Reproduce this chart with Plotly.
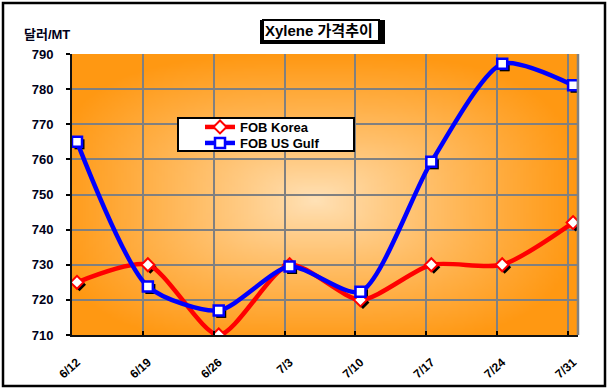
import zlib, struct, base64
import plotly.graph_objects as go

# ---------------- data ----------------
dates = ["6/12", "6/19", "6/26", "7/3", "7/10", "7/17", "7/24", "7/31"]
fob_korea = [725, 730, 710, 730, 720, 730, 730, 742]
fob_usgulf = [765, 723.8, 717, 729.5, 722.3, 759.3, 787.2, 781.1]
y_ticks = [710, 720, 730, 740, 750, 760, 770, 780, 790]

W, H = 608, 391
L, R, T, B = 72, 578, 54, 335   # plot area in pixels
PW, PH = R - L, B - T

def px_x(p):
    return (p - L) / PW

def px_y(p):
    return (B - p) / PH

# ---------------- radial gradient background (PNG, pure python) ----------------
def gradient_png(w=160, h=100):
    c_edge = (255, 152, 18)
    c_mid = (255, 226, 184)
    cu, cv = 0.48, 0.52
    rows = []
    for j in range(h):
        v = (j + 0.5) / h
        row = bytearray([0])
        for i in range(w):
            u = (i + 0.5) / w
            dx = abs(u - cu) / 0.52
            dy = abs(v - cv) / 0.52
            t = (dx ** 3 + dy ** 3) ** (1 / 3)
            t = min(1.0, t) ** 0.9
            row += bytes(int(round(c_mid[k] + (c_edge[k] - c_mid[k]) * t)) for k in range(3))
        rows.append(bytes(row))
    raw = b"".join(rows)

    def chunk(tag, data):
        return struct.pack(">I", len(data)) + tag + data + struct.pack(">I", zlib.crc32(tag + data) & 0xFFFFFFFF)

    png = (b"\x89PNG\r\n\x1a\n"
           + chunk(b"IHDR", struct.pack(">IIBBBBB", w, h, 8, 2, 0, 0, 0))
           + chunk(b"IDAT", zlib.compress(raw, 9))
           + chunk(b"IEND", b""))
    return "data:image/png;base64," + base64.b64encode(png).decode()

FONT = "Liberation Sans, Arial, Noto Sans CJK KR, sans-serif"
idx = list(range(len(dates)))

n = len(dates) - 1
step = PW / (n + 0.14)          # px per category
shift = 5 / step                # data drawn 5px right of gridlines
sh_x = 2.5 / step               # marker shadow offset
sh_y = 2.5 / (PH / 80)
SMOOTH = 0.7

fig = go.Figure()

# empty trace so that the base (grid) subplot xy exists
fig.add_trace(go.Scatter(x=[], y=[], xaxis="x", yaxis="y", showlegend=False, hoverinfo="skip"))

# marker shadows
fig.add_trace(go.Scatter(x=idx, y=fob_korea, xaxis="x2", yaxis="y2", mode="markers",
                         marker=dict(symbol="diamond", size=10, color="black"),
                         showlegend=False, hoverinfo="skip"))
fig.add_trace(go.Scatter(x=idx, y=fob_usgulf, xaxis="x2", yaxis="y2", mode="markers",
                         marker=dict(symbol="square", size=10, color="black"),
                         showlegend=False, hoverinfo="skip"))

fig.add_trace(go.Scatter(
    x=idx, y=fob_korea, name="FOB Korea", xaxis="x3", yaxis="y", legend="legend",
    mode="lines+markers", line=dict(color="#ff0000", width=4.5, shape="spline", smoothing=SMOOTH),
    marker=dict(symbol="diamond", size=10, color="white", line=dict(color="#ff0000", width=2))))
fig.add_trace(go.Scatter(
    x=idx, y=fob_usgulf, name="FOB US Gulf", xaxis="x3", yaxis="y", legend="legend2",
    mode="lines+markers", line=dict(color="#0000ff", width=4.5, shape="spline", smoothing=SMOOTH),
    marker=dict(symbol="square", size=10, color="white", line=dict(color="#0000ff", width=2.5))))

legend_common = dict(xanchor="left", yanchor="top", bgcolor="rgba(0,0,0,0)", borderwidth=0,
                     font=dict(family=FONT, size=13, color="black", weight="bold"),
                     itemwidth=30)

fig.update_layout(
    width=W, height=H,
    margin=dict(l=L, r=W - R, t=T, b=H - B, autoexpand=False),
    paper_bgcolor="white", plot_bgcolor="rgba(0,0,0,0)",
    font=dict(family=FONT, color="black"),
    showlegend=True,
    xaxis=dict(type="linear", range=[0, n + 0.14], tickmode="array", tickvals=idx, showticklabels=False,
               showgrid=True, gridcolor="#808080", gridwidth=2,
               ticks="inside", ticklen=4, tickwidth=2, tickcolor="black",
               showline=True, linecolor="#111111", linewidth=2, zeroline=False, fixedrange=True),
    xaxis2=dict(overlaying="x", range=[-shift - sh_x, n + 0.14 - shift - sh_x], visible=False),
    yaxis2=dict(overlaying="y", range=[710 + sh_y, 790 + sh_y], visible=False),
    xaxis3=dict(overlaying="x", range=[-shift, n + 0.14 - shift], tickmode="array",
                tickvals=idx, ticktext=dates, tickangle=-42, showgrid=False, ticks="",
                showline=False, zeroline=False, ticklabelstandoff=17,
                tickfont=dict(family=FONT, size=12, color="black", weight="bold")),
    yaxis=dict(range=[710, 790], tickmode="array", tickvals=y_ticks,
               showgrid=True, gridcolor="#808080", gridwidth=2,
               ticks="outside", ticklen=4, tickwidth=2, tickcolor="black",
               showline=True, linecolor="#111111", linewidth=2, zeroline=False,
               ticklabelstandoff=10,
               tickfont=dict(family=FONT, size=13, color="#000018", weight="bold")),
    legend=dict(x=px_x(200), y=px_y(112), **legend_common),
    legend2=dict(x=px_x(200), y=px_y(128), **legend_common),
    images=[dict(source=gradient_png(), xref="paper", yref="paper", x=0, y=1,
                 sizex=1, sizey=1, sizing="stretch", layer="below", xanchor="left", yanchor="top")],
)

shapes = [
    # right plot edge (gray)
    dict(type="line", xref="paper", yref="paper", x0=1, x1=1, y0=0, y1=1,
         line=dict(color="#808080", width=2.5)),
    # legend box
    dict(type="rect", xref="paper", yref="paper", x0=px_x(178), x1=px_x(354),
         y0=px_y(151), y1=px_y(118), fillcolor="white", line=dict(color="black", width=2)),
    # title shadow
    dict(type="rect", xref="paper", yref="paper", x0=px_x(260), x1=px_x(385),
         y0=px_y(44), y1=px_y(20), fillcolor="black", line=dict(width=0)),
    # outer frame
    dict(type="rect", xref="paper", yref="paper", x0=px_x(3), x1=px_x(605),
         y0=px_y(386), y1=px_y(3), line=dict(color="black", width=2.5)),
]
fig.update_layout(shapes=shapes)

fig.add_annotation(text="<b>Xylene 가격추이 </b>", xref="paper", yref="paper",
                   x=px_x(320.5), y=px_y(30), xanchor="center", yanchor="middle", showarrow=False,
                   font=dict(family=FONT, size=15, color="black"),
                   bgcolor="white", bordercolor="black", borderwidth=2, borderpad=1)
fig.add_annotation(text="<b>달러/MT</b>", xref="paper", yref="paper",
                   x=px_x(72), y=px_y(34), xanchor="right", yanchor="middle", showarrow=False,
                   font=dict(family=FONT, size=13, color="#000018"))

fig.write_html("out.html", config={"displayModeBar": False},
               post_script="document.body.style.margin='0px';")
